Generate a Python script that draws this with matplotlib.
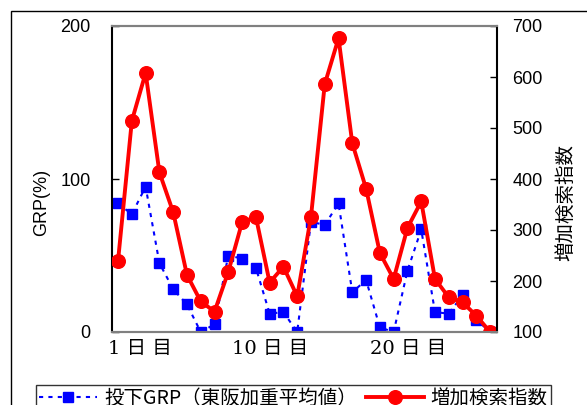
import numpy as np
import matplotlib
matplotlib.use('Agg')
import matplotlib.pyplot as plt
from matplotlib.patches import Rectangle
from matplotlib.transforms import ScaledTranslation

# --- Data ---
days = np.arange(1, 29)
grp = [84, 77, 95, 45, 28, 18, 0, 5, 50, 48, 42, 12, 13, 0,
       72, 70, 84, 26, 34, 3, 0, 40, 67, 13, 12, 24, 8, 0]
search = [240, 514, 608, 413, 335, 212, 160, 140, 218, 315, 326, 197, 228, 170,
          326, 586, 676, 470, 381, 255, 204, 304, 356, 204, 168, 158, 132, 100]
xtick_pos = [1, 10, 20]
xtick_labels = ['1 日 目', '10 日 目', '20 日 目']
label_grp = '投下GRP（東阪加重平均値）'
label_search = '増加検索指数'

cjk = ['Noto Sans CJK JP', 'DejaVu Sans']
num_font = ['Liberation Sans', 'DejaVu Sans']

# --- Figure ---
fig = plt.figure(figsize=(5.87, 4.05), dpi=100)
ax = fig.add_axes([112/587, 73/405, 385/587, 306/405])
ax2 = ax.twinx()

ax.plot(days, grp, color='#0000FF', lw=1.5, linestyle=(0, (2, 2.5)),
        marker='s', markersize=6.8, label=label_grp)
ax2.plot(days, search, color='#FF0000', lw=2.8, marker='o',
         markersize=9.8, label=label_search)

ax.set_xlim(0.56, 28.5)
ax.set_ylim(0, 200)
ax2.set_ylim(100, 700)
ax.set_yticks([0, 100, 200])
ax2.set_yticks(range(100, 701, 100))

# spines
for a in (ax, ax2):
    a.spines['top'].set_color('#808080')
    a.spines['bottom'].set_color('#808080')
    for s in a.spines.values():
        s.set_linewidth(1.5)
ax.spines['right'].set_visible(False)
ax2.spines['left'].set_visible(False)
ax.spines['left'].set_color('black')
ax2.spines['right'].set_color('black')

ax.tick_params(axis='y', direction='in', length=5, width=1, pad=15.5)
ax2.tick_params(axis='y', direction='in', length=5, width=1, pad=11)
for lab in ax.get_yticklabels() + ax2.get_yticklabels():
    lab.set_family(num_font)
    lab.set_fontsize(13)

ax.set_xticks(xtick_pos)
ax.set_xticklabels(xtick_labels, family=['DejaVu Serif', 'Noto Sans CJK JP'], fontsize=14)
ax.tick_params(axis='x', length=0, pad=6)
offset = ScaledTranslation(-10/100, 0, fig.dpi_scale_trans)
for lab in ax.get_xticklabels():
    lab.set_ha('left')
    lab.set_transform(lab.get_transform() + offset)

ax.set_ylabel('GRP(%)', family=num_font, fontsize=13)
ax.yaxis.set_label_coords(42/587, 0.5, transform=fig.transFigure)
ax2.set_ylabel(label_search, family=cjk, fontsize=14, rotation=90)
ax2.yaxis.set_label_coords(566/587, 0.5, transform=fig.transFigure)
ax.yaxis.label.set_va('center')
ax2.yaxis.label.set_va('center')

# legend
h1, l1 = ax.get_legend_handles_labels()
h2, l2 = ax2.get_legend_handles_labels()
leg = fig.legend(h1 + h2, l1 + l2, loc='upper left',
                 bbox_to_anchor=(36/587, 1 - 385/405), ncol=2,
                 prop={'family': cjk, 'size': 14}, frameon=True,
                 fancybox=False, edgecolor='black', borderpad=0.15,
                 handlelength=3.0, handletextpad=0.35, columnspacing=0.45,
                 borderaxespad=0)
leg.get_frame().set_linewidth(1)

# outer chart border (partly cropped)
fig.add_artist(Rectangle((11/587, -0.2), 1.0, (405 - 11)/405 + 0.2,
                         transform=fig.transFigure, fill=False,
                         edgecolor='black', lw=1, clip_on=False))

plt.savefig('out.png', dpi=100)
